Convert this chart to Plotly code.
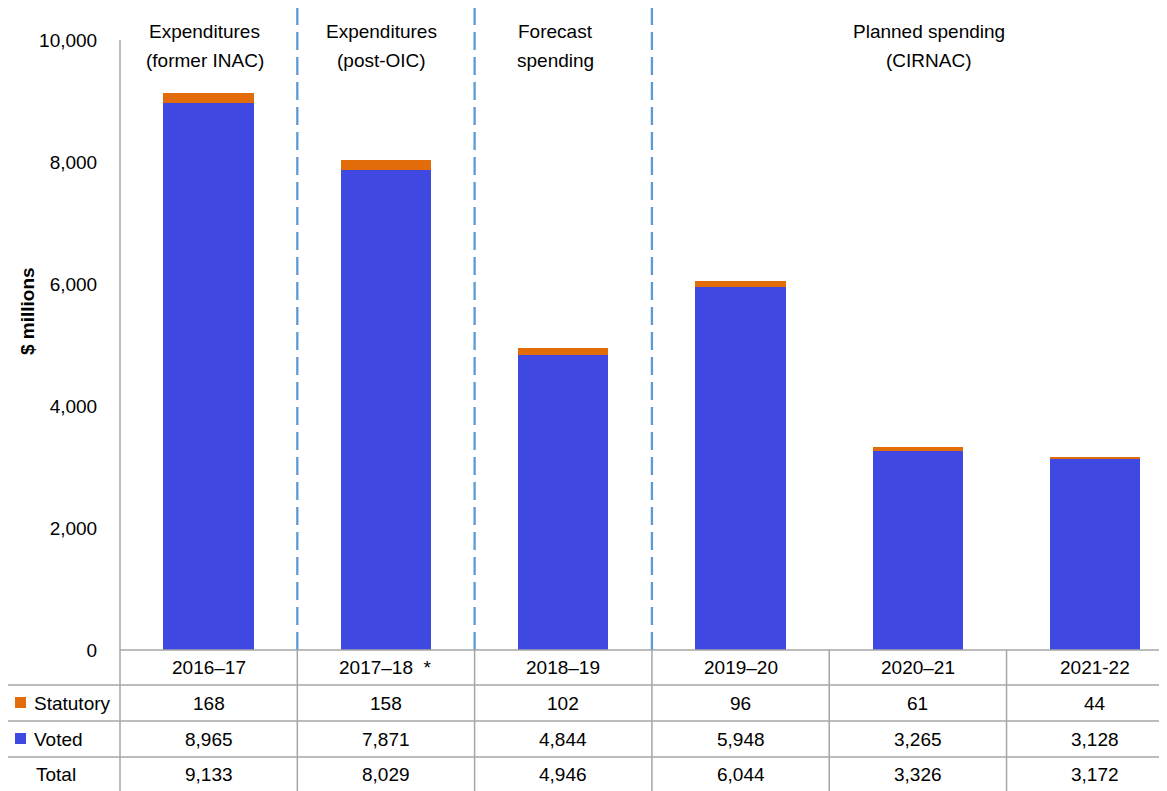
import plotly.graph_objects as go

categories = ["2016–17", "2017–18  *", "2018–19", "2019–20", "2020–21", "2021-22"]
statutory = [168, 158, 102, 96, 61, 44]
voted = [8965, 7871, 4844, 5948, 3265, 3128]
totals = [9133, 8029, 4946, 6044, 3326, 3172]
y_ticks = [0, 2000, 4000, 6000, 8000, 10000]
period_lines1 = ["Expenditures", "Expenditures", "Forecast", "Planned spending"]
period_lines2 = ["(former INAC)", "(post-OIC)", "spending", "(CIRNAC)"]
period_pos = [-0.023, 0.972, 1.955, 4.06]
dividers = [0.5, 1.5, 2.5]

BLUE = "#3F48E0"
ORANGE = "#E36C0A"
GRID = "#A6A6A6"
DASH = "#5B9BD5"
FONT = "Liberation Sans, Arial, sans-serif"

OFF = 8  # page body margin
W, H = 1167, 791 - OFF
L, T = 120 - OFF, 40 - OFF
R = W - (1167 - OFF)
B = H - (650 - OFF)
PH = H - T - B
PW = W - L - R


def py(sy):
    """screen pixel y -> paper y"""
    return (H - B - (sy - OFF)) / PH


def px(sx):
    """screen pixel x -> paper x"""
    return (sx - OFF - L) / PW


x = list(range(len(categories)))

fig = go.Figure()
fig.add_bar(x=x, y=voted, name="Voted", marker_color=BLUE, marker_line_width=0,
            showlegend=False, hoverinfo="y")
fig.add_bar(x=x, y=statutory, name="Statutory", marker_color=ORANGE, marker_line_width=0,
            showlegend=False, hoverinfo="y")

shapes = []
annotations = []
tf = dict(size=19, color="#000", family=FONT)

# dashed dividers
for d in dividers:
    shapes.append(dict(type="line", xref="x", yref="paper", x0=d, x1=d, y0=0, y1=py(5),
                       line=dict(color=DASH, width=2.3, dash="18px,7px")))

# period labels
for t1, t2, p in zip(period_lines1, period_lines2, period_pos):
    annotations.append(dict(x=p, y=py(32), xref="x", yref="paper", text=t1, showarrow=False,
                            font=tf, yanchor="middle"))
    annotations.append(dict(x=p, y=py(60), xref="x", yref="paper", text=t2, showarrow=False,
                            font=tf, yanchor="middle"))

# table horizontal lines
for yy in [650, 685, 721, 757]:
    x0 = px(120) if yy == 650 else px(7)
    shapes.append(dict(type="line", xref="paper", yref="paper", x0=x0, x1=1.0, y0=py(yy), y1=py(yy),
                       line=dict(color=GRID, width=1.5)))
# table vertical lines
shapes.append(dict(type="line", xref="paper", yref="paper", x0=px(7), x1=px(7), y0=py(685), y1=py(795),
                   line=dict(color=GRID, width=1.5)))
shapes.append(dict(type="line", xref="paper", yref="paper", x0=0, x1=0, y0=py(40), y1=py(795),
                   line=dict(color=GRID, width=1.5)))
for i in range(len(categories) - 1):
    shapes.append(dict(type="line", xref="x", yref="paper", x0=i + 0.5, x1=i + 0.5, y0=0, y1=py(795),
                       line=dict(color=GRID, width=1.5)))

# legend squares
shapes.append(dict(type="rect", xref="paper", yref="paper", x0=px(15), x1=px(26), y0=py(697), y1=py(708),
                   fillcolor=ORANGE, line=dict(width=0)))
shapes.append(dict(type="rect", xref="paper", yref="paper", x0=px(15), x1=px(26), y0=py(733), y1=py(744),
                   fillcolor=BLUE, line=dict(width=0)))

row_labels = [("Statutory", 32, 703), ("Voted", 32, 739), ("Total", 34, 774)]
for lab, lx, ly in row_labels:
    annotations.append(dict(x=px(lx), y=py(ly), xref="paper", yref="paper", text=lab, showarrow=False,
                            xanchor="left", yanchor="middle", font=tf))

# header + values
for i, c in enumerate(categories):
    annotations.append(dict(x=i, y=py(667), xref="x", yref="paper", text=c, showarrow=False,
                            yanchor="middle", font=tf))
    for vals, ly in [(statutory, 703), (voted, 739), (totals, 774)]:
        annotations.append(dict(x=i, y=py(ly), xref="x", yref="paper", text=f"{vals[i]:,}", showarrow=False,
                                yanchor="middle", font=tf))

# y-axis title
annotations.append(dict(x=px(27), y=py(311), xref="paper", yref="paper", text="<b>$ millions</b>",
                        textangle=-90, showarrow=False, xanchor="center", yanchor="middle",
                        font=dict(size=19, color="#000", family=FONT)))

fig.update_layout(
    width=W, height=H,
    margin=dict(l=L, r=R, t=T, b=B),
    barmode="stack",
    bargap=0.49,
    plot_bgcolor="white",
    paper_bgcolor="white",
    font=dict(family=FONT, size=19, color="#000"),
    shapes=shapes,
    annotations=annotations,
    xaxis=dict(range=[-0.5, 5.405], showticklabels=False, showgrid=False, zeroline=False,
               showline=False, ticks=""),
    yaxis=dict(range=[0, 10000], tickvals=y_ticks, ticktext=[f"{v:,}" for v in y_ticks],
               showgrid=False, zeroline=False, showline=False, ticks="outside", ticklen=18,
               tickcolor="rgba(0,0,0,0)",
               tickfont=dict(size=19, family=FONT, color="#000")),
)

fig.write_html("out.html")
